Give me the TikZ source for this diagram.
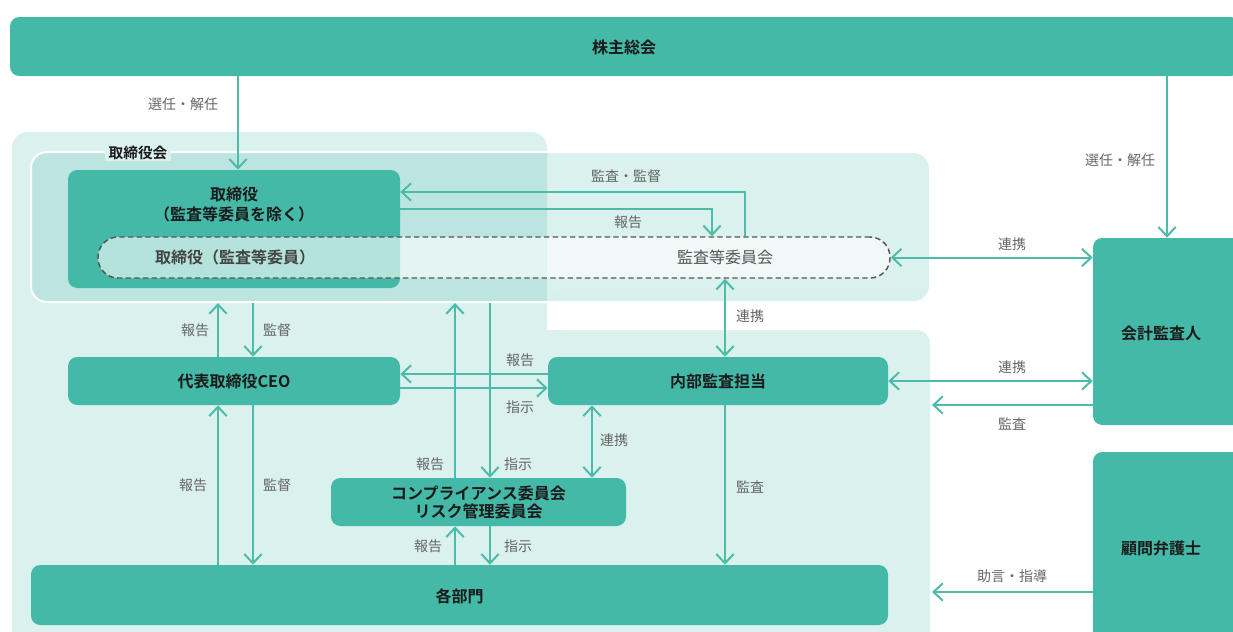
\documentclass[tikz,border=0pt]{standalone}
\usepackage{fontspec}
\setmainfont{Noto Sans CJK JP}[BoldFont={Noto Sans CJK JP Bold}]
\usetikzlibrary{arrows.meta}
\definecolor{teal1}{HTML}{45B9A7}
\definecolor{linec}{HTML}{4DBBA9}
\colorlet{regionc}{teal1!20}
\definecolor{labc}{HTML}{666666}
\definecolor{boxtext}{HTML}{1A1A1A}
\definecolor{dashc}{HTML}{555555}
\begin{document}
\begin{tikzpicture}[x=0.75pt,y=-0.75pt,
  box/.style={draw=none, fill=teal1, rounded corners=7pt, inner sep=0pt},
  btext/.style={font=\bfseries\fontsize{12}{15}\selectfont, text=boxtext, align=center, inner sep=0pt},
  lab/.style={font=\fontsize{10.5}{12}\selectfont, text=labc, inner sep=1pt},
  tip/.tip={Straight Barb[length=7pt,width=13pt]},
  arr/.style={draw=linec, line width=1.5pt, -tip},
  darr/.style={draw=linec, line width=1.5pt, tip-tip}]
\useasboundingbox (0,0) rectangle (1233,632);
% background regions
\fill[regionc, rounded corners=12pt] (12,132) rectangle (547,660);
\fill[regionc, rounded corners=10pt] (530,330) rectangle (930,660);
\fill[white, rounded corners=10pt] (547,290) rectangle (960,330);
\draw[white, line width=1.5pt, fill=teal1, fill opacity=0.2, rounded corners=12pt] (31,152) rectangle (930,302);
\node[fill=regionc, font=\bfseries\fontsize{11}{13}\selectfont, text=boxtext, inner xsep=3pt, inner ysep=1pt] (boardlab) at (138,153) {取締役会};
\coordinate (bbot) at (0,303);
\coordinate (rr) at (932,0);
% boxes
\node[box, minimum width=922.5pt, minimum height=44.25pt] (agm) at (625,46.5) {};
\node[btext] (agmt) at (624,47) {株主総会};
\node[box, minimum width=249pt, minimum height=88.5pt] (dir) at (234,229) {};
\node[btext] (dirt) at (234,204) {取締役\\（監査等委員を除く）};
\node[draw=dashc, line width=1.1pt, dash pattern=on 4pt off 2.5pt, fill=white, fill opacity=0.6, rounded corners=15pt, minimum width=594pt, minimum height=30.75pt, inner sep=0pt] (aud) at (494,257.5) {};
\node[font=\bfseries\fontsize{12}{15}\selectfont, text=dashc!80!black] (audl) at (235,257) {取締役（監査等委員）};
\node[font=\fontsize{12}{15}\selectfont, text=dashc] (audr) at (725,257) {監査等委員会};
\node[box, minimum width=114pt, minimum height=140.25pt] (ext) at (1169,331.5) {};
\node[btext] (extt) at (1161,333) {会計監査人};
\node[box, minimum width=114pt, minimum height=141pt] (law) at (1169,546) {};
\node[btext] (lawt) at (1161,548) {顧問弁護士};
\node[box, minimum width=249pt, minimum height=36pt] (ceo) at (234,381) {};
\node[btext] (ceot) at (234,381) {代表取締役CEO};
\node[box, minimum width=255pt, minimum height=36pt] (ia) at (718,381) {};
\node[btext] (iat) at (718,381) {内部監査担当};
\node[box, minimum width=221.25pt, minimum height=36pt] (cc) at (478.5,502) {};
\node[btext, font=\bfseries\fontsize{12}{13.5}\selectfont] (cct) at (478.5,502) {コンプライアンス委員会\\リスク管理委員会};
\node[box, minimum width=642.75pt, minimum height=45pt] (dept) at (459.5,595) {};
\node[btext] (deptt) at (459.5,596) {各部門};
% connectors
\draw[arr] (238,0 |- agm.south) -- (238,0 |- dir.north);
\node[lab] at (183,104) {選任・解任};
\draw[arr] (745,0 |- aud.north) |- (dir.east |- 0,192);
\node[lab] at (626,176) {監査・監督};
\draw[arr] (dir.east |- 0,209) -| (712,0 |- aud.north);
\node[lab] at (628,222) {報告};
\draw[darr] (aud.east) -- (ext.west |- aud.east);
\node[lab] at (1012,244) {連携};
\draw[arr] (1167,0 |- agm.south) -- (1167,0 |- ext.north);
\node[lab] at (1120,160) {選任・解任};
\draw[darr] (ia.east) -- (ext.west |- ia.east);
\node[lab] at (1012,367) {連携};
\draw[arr] (ext.west |- 0,405) -- (rr |- 0,405);
\node[lab] at (1012,424) {監査};
\draw[arr] (law.west |- 0,592) -- (rr |- 0,592);
\node[lab] at (1012,576) {助言・指導};
\draw[arr] (218,0 |- ceo.north) -- (218,0 |- bbot);
\draw[arr] (253,0 |- bbot) -- (253,0 |- ceo.north);
\node[lab] at (195,330) {報告};
\node[lab] at (277,330) {監督};
\draw[arr] (218,0 |- dept.north) -- (218,0 |- ceo.south);
\draw[arr] (253,0 |- ceo.south) -- (253,0 |- dept.north);
\node[lab] at (193,485) {報告};
\node[lab] at (277,485) {監督};
\draw[arr] (ia.west |- 0,374) -- (ceo.east |- 0,374);
\draw[arr] (ceo.east |- 0,388) -- (ia.west |- 0,388);
\node[lab] at (520,360) {報告};
\node[lab] at (520,407) {指示};
\draw[arr] (455,0 |- cc.north) -- (455,0 |- bbot);
\draw[arr] (490,0 |- bbot) -- (490,0 |- cc.north);
\node[lab] at (430,464) {報告};
\node[lab] at (518,464) {指示};
\draw[darr] (725,0 |- aud.south) -- (725,0 |- ia.north);
\node[lab] at (750,316) {連携};
\draw[darr] (592,0 |- ia.south) -- (592,0 |- cc.north);
\node[lab] at (614,440) {連携};
\draw[arr] (725,0 |- ia.south) -- (725,0 |- dept.north);
\node[lab] at (750,487) {監査};
\draw[arr] (455,0 |- dept.north) -- (455,0 |- cc.south);
\draw[arr] (490,0 |- cc.south) -- (490,0 |- dept.north);
\node[lab] at (428,546) {報告};
\node[lab] at (518,546) {指示};
\end{tikzpicture}
\end{document}
